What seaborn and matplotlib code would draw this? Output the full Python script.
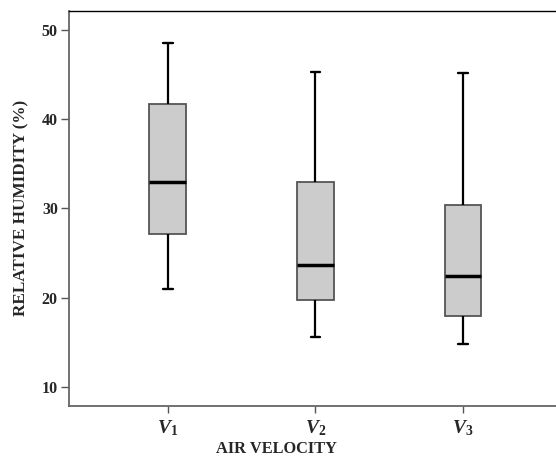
import pandas as pd
import matplotlib.pyplot as plt
import seaborn as sns

# five-number summaries: min, Q1, median, Q3, max
groups = ["V1", "V2", "V3"]
tick_labels = [r"$\mathit{V_1}$", r"$\mathit{V_2}$", r"$\mathit{V_3}$"]
v1 = [21.0, 27.1, 33.0, 41.7, 48.5]
v2 = [15.6, 19.7, 23.7, 33.0, 45.3]
v3 = [14.8, 17.9, 22.4, 30.4, 45.2]

df = pd.DataFrame({
    "velocity": [g for g, vals in zip(groups, [v1, v2, v3]) for _ in vals],
    "humidity": v1 + v2 + v3,
})

sns.set_style("white")
plt.rcParams["font.family"] = ["Liberation Serif", "DejaVu Serif"]
plt.rcParams["font.weight"] = "bold"
plt.rcParams["mathtext.fontset"] = "custom"
plt.rcParams["mathtext.it"] = "Liberation Serif:italic:bold"
plt.rcParams["mathtext.rm"] = "Liberation Serif:bold"

fig = plt.figure(figsize=(5.56, 4.58), dpi=100)
ax = fig.add_axes([0.124, 0.1135, 0.876, 0.8631])

sns.boxplot(data=df, x="velocity", y="humidity", ax=ax, width=0.25,
            whis=1.5, color="#cccccc", linecolor="black",
            boxprops=dict(facecolor="#cccccc", edgecolor="#555555", linewidth=1.3),
            medianprops=dict(color="black", linewidth=2.5),
            whiskerprops=dict(color="black", linewidth=1.6),
            capprops=dict(color="black", linewidth=1.7),
            showfliers=False)

# narrow the whisker caps
for line in ax.lines:
    xs, ys = line.get_xdata(), line.get_ydata()
    if len(xs) == 2 and ys[0] == ys[1] and line.get_linewidth() == 1.7:
        c = (xs[0] + xs[1]) / 2
        line.set_xdata([c - 0.032, c + 0.032])

ax.set_xlim(-0.67, 2.63)
ax.set_ylim(7.85, 52.15)
ax.set_yticks([10, 20, 30, 40, 50])
ax.set_xticks([0, 1, 2])
ax.set_xticklabels(tick_labels, fontsize=14)
ax.tick_params(axis="y", labelsize=11.5, length=6, width=1, color="#555555",
               direction="out", left=True, pad=2)
ax.tick_params(axis="x", length=5, width=1, color="#555555",
               direction="out", bottom=True, pad=4)

for side in ["left", "bottom"]:
    ax.spines[side].set_color("#666666")
    ax.spines[side].set_linewidth(1.3)
ax.spines["top"].set_color("black")
ax.spines["top"].set_linewidth(1.0)
ax.spines["right"].set_visible(False)

ax.set_xlabel("AIR VELOCITY", fontsize=11.8, fontweight="bold")
ax.xaxis.set_label_coords(0.426, -0.089)
ax.set_ylabel("RELATIVE HUMIDITY (%)", fontsize=12.3, fontweight="bold")
ax.yaxis.set_label_coords(-0.082, 0.5)

fig.savefig("out.png", dpi=100)
